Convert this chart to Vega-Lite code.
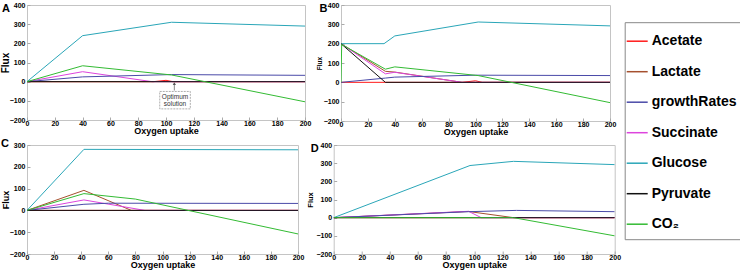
{
  "$schema": "https://vega.github.io/schema/vega-lite/v6.json",
  "padding": {"left": 0, "top": 0, "right": 0, "bottom": 0},
  "spacing": 0,
  "datasets": {
    "lines": [
      {"p": "A", "s": "Acetate", "x": 0, "y": 0},
      {"p": "A", "s": "Acetate", "x": 91, "y": 0},
      {"p": "A", "s": "Acetate", "x": 100, "y": 7},
      {"p": "A", "s": "Acetate", "x": 105, "y": 0},
      {"p": "A", "s": "Acetate", "x": 200, "y": 0},
      {"p": "A", "s": "Lactate", "x": 0, "y": 0},
      {"p": "A", "s": "Lactate", "x": 200, "y": 0},
      {"p": "A", "s": "Succinate", "x": 0, "y": 0},
      {"p": "A", "s": "Succinate", "x": 40, "y": 52},
      {"p": "A", "s": "Succinate", "x": 90, "y": 0},
      {"p": "A", "s": "Succinate", "x": 200, "y": 0},
      {"p": "A", "s": "growthRates", "x": 0, "y": 0},
      {"p": "A", "s": "growthRates", "x": 40, "y": 25},
      {"p": "A", "s": "growthRates", "x": 104, "y": 37},
      {"p": "A", "s": "growthRates", "x": 200, "y": 33},
      {"p": "A", "s": "Glucose", "x": 0, "y": 0},
      {"p": "A", "s": "Glucose", "x": 40, "y": 240},
      {"p": "A", "s": "Glucose", "x": 104, "y": 310},
      {"p": "A", "s": "Glucose", "x": 200, "y": 290},
      {"p": "A", "s": "Pyruvate", "x": 0, "y": 0},
      {"p": "A", "s": "Pyruvate", "x": 200, "y": 0},
      {"p": "A", "s": "CO₂", "x": 0, "y": 0},
      {"p": "A", "s": "CO₂", "x": 40, "y": 83},
      {"p": "A", "s": "CO₂", "x": 104, "y": 35},
      {"p": "A", "s": "CO₂", "x": 200, "y": -105},

      {"p": "B", "s": "Acetate", "x": 0, "y": 0},
      {"p": "B", "s": "Acetate", "x": 90, "y": 0},
      {"p": "B", "s": "Acetate", "x": 100, "y": 8},
      {"p": "B", "s": "Acetate", "x": 105, "y": 0},
      {"p": "B", "s": "Acetate", "x": 200, "y": 0},
      {"p": "B", "s": "Lactate", "x": 0, "y": 200},
      {"p": "B", "s": "Lactate", "x": 33, "y": 57},
      {"p": "B", "s": "Lactate", "x": 40, "y": 53},
      {"p": "B", "s": "Lactate", "x": 90, "y": 0},
      {"p": "B", "s": "Lactate", "x": 200, "y": 0},
      {"p": "B", "s": "Succinate", "x": 0, "y": 200},
      {"p": "B", "s": "Succinate", "x": 33, "y": 44},
      {"p": "B", "s": "Succinate", "x": 40, "y": 52},
      {"p": "B", "s": "Succinate", "x": 90, "y": 0},
      {"p": "B", "s": "Succinate", "x": 200, "y": 0},
      {"p": "B", "s": "growthRates", "x": 0, "y": 0},
      {"p": "B", "s": "growthRates", "x": 33, "y": 22},
      {"p": "B", "s": "growthRates", "x": 40, "y": 27},
      {"p": "B", "s": "growthRates", "x": 100, "y": 37},
      {"p": "B", "s": "growthRates", "x": 200, "y": 35},
      {"p": "B", "s": "Glucose", "x": 0, "y": 200},
      {"p": "B", "s": "Glucose", "x": 32, "y": 200},
      {"p": "B", "s": "Glucose", "x": 40, "y": 240},
      {"p": "B", "s": "Glucose", "x": 102, "y": 312},
      {"p": "B", "s": "Glucose", "x": 200, "y": 292},
      {"p": "B", "s": "Pyruvate", "x": 0, "y": 200},
      {"p": "B", "s": "Pyruvate", "x": 33, "y": 0},
      {"p": "B", "s": "Pyruvate", "x": 200, "y": 0},
      {"p": "B", "s": "CO₂", "x": 0, "y": 0},
      {"p": "B", "s": "CO₂", "x": 0.5, "y": 196},
      {"p": "B", "s": "CO₂", "x": 33, "y": 68},
      {"p": "B", "s": "CO₂", "x": 40, "y": 80},
      {"p": "B", "s": "CO₂", "x": 102, "y": 35},
      {"p": "B", "s": "CO₂", "x": 200, "y": -105},

      {"p": "C", "s": "Acetate", "x": 0, "y": 0},
      {"p": "C", "s": "Acetate", "x": 200, "y": 0},
      {"p": "C", "s": "Lactate", "x": 0, "y": 0},
      {"p": "C", "s": "Lactate", "x": 42, "y": 92},
      {"p": "C", "s": "Lactate", "x": 77, "y": 0},
      {"p": "C", "s": "Lactate", "x": 200, "y": 0},
      {"p": "C", "s": "Succinate", "x": 0, "y": 0},
      {"p": "C", "s": "Succinate", "x": 42, "y": 48},
      {"p": "C", "s": "Succinate", "x": 87, "y": 0},
      {"p": "C", "s": "Succinate", "x": 200, "y": 0},
      {"p": "C", "s": "growthRates", "x": 0, "y": 0},
      {"p": "C", "s": "growthRates", "x": 42, "y": 28},
      {"p": "C", "s": "growthRates", "x": 60, "y": 33},
      {"p": "C", "s": "growthRates", "x": 200, "y": 32},
      {"p": "C", "s": "Glucose", "x": 0, "y": 0},
      {"p": "C", "s": "Glucose", "x": 42, "y": 280},
      {"p": "C", "s": "Glucose", "x": 200, "y": 278},
      {"p": "C", "s": "Pyruvate", "x": 0, "y": 0},
      {"p": "C", "s": "Pyruvate", "x": 200, "y": 0},
      {"p": "C", "s": "CO₂", "x": 0, "y": 0},
      {"p": "C", "s": "CO₂", "x": 42, "y": 77},
      {"p": "C", "s": "CO₂", "x": 80, "y": 52},
      {"p": "C", "s": "CO₂", "x": 200, "y": -108},

      {"p": "D", "s": "Acetate", "x": 0, "y": 0},
      {"p": "D", "s": "Acetate", "x": 200, "y": 0},
      {"p": "D", "s": "Lactate", "x": 0, "y": 0},
      {"p": "D", "s": "Lactate", "x": 96, "y": 34},
      {"p": "D", "s": "Lactate", "x": 128, "y": 0},
      {"p": "D", "s": "Lactate", "x": 200, "y": 0},
      {"p": "D", "s": "Succinate", "x": 0, "y": 0},
      {"p": "D", "s": "Succinate", "x": 96, "y": 35},
      {"p": "D", "s": "Succinate", "x": 105, "y": 0},
      {"p": "D", "s": "Succinate", "x": 200, "y": 0},
      {"p": "D", "s": "growthRates", "x": 0, "y": 0},
      {"p": "D", "s": "growthRates", "x": 96, "y": 33},
      {"p": "D", "s": "growthRates", "x": 130, "y": 40},
      {"p": "D", "s": "growthRates", "x": 200, "y": 33},
      {"p": "D", "s": "Glucose", "x": 0, "y": 0},
      {"p": "D", "s": "Glucose", "x": 97, "y": 287},
      {"p": "D", "s": "Glucose", "x": 128, "y": 310},
      {"p": "D", "s": "Glucose", "x": 200, "y": 292},
      {"p": "D", "s": "Pyruvate", "x": 0, "y": 0},
      {"p": "D", "s": "Pyruvate", "x": 200, "y": 0},
      {"p": "D", "s": "CO₂", "x": 0, "y": 0},
      {"p": "D", "s": "CO₂", "x": 128, "y": 0},
      {"p": "D", "s": "CO₂", "x": 200, "y": -100}
    ],
    "box": [{"x1": 95.5, "x2": 117.5, "y1": -51, "y2": -142}],
    "boxtext": [
      {"x": 106.5, "y": -81, "t": "Optimum"},
      {"x": 106.5, "y": -119, "t": "solution"}
    ],
    "arrow": [{"x": 106, "y1": -46, "y2": -8, "tip": -10}]
  },
  "vconcat": [
    {
      "bounds": "flush",
      "spacing": 36,
      "hconcat": [
        {
          "width": 278,
          "height": 115,
          "title": {"text": "A", "dx": -25, "offset": -12.5},
          "encoding": {
            "x": {"field": "x", "type": "quantitative", "scale": {"domain": [0, 200], "nice": false}, "axis": {"values": [0, 20, 40, 60, 80, 100, 120, 140, 160, 180, 200], "title": "Oxygen uptake"}},
            "y": {"field": "y", "type": "quantitative", "scale": {"domain": [-200, 400], "nice": false}, "axis": {"values": [-200, -100, 0, 100, 200, 300, 400], "title": "Flux", "titleFontSize": 10, "titlePadding": -1.7}}
          },
          "layer": [
            {
              "data": {"name": "lines"},
              "transform": [{"filter": "datum.p === 'A'"}],
              "mark": {"type": "line", "strokeWidth": 1, "clip": true},
              "encoding": {"color": {"field": "s", "type": "nominal", "scale": {"domain": ["Acetate", "Lactate", "growthRates", "Succinate", "Glucose", "Pyruvate", "CO₂"], "range": ["#ff1a1a", "#a5502e", "#4a4aa8", "#dd44dd", "#2aa6b8", "#111111", "#33bb33"]}, "legend": {"title": null, "orient": "none", "legendX": 597.7, "legendY": 17.2}}}
            },
            {
              "data": {"name": "box"},
              "mark": {"type": "rect", "fill": "white", "stroke": "#999999", "strokeWidth": 0.8, "strokeDash": [2, 1]},
              "encoding": {
                "x": {"field": "x1", "type": "quantitative"},
                "x2": {"field": "x2"},
                "y": {"field": "y1", "type": "quantitative"},
                "y2": {"field": "y2"}
              }
            },
            {
              "data": {"name": "boxtext"},
              "mark": {"type": "text", "font": "Liberation Sans", "fontSize": 6.5, "color": "#333333"},
              "encoding": {
                "x": {"field": "x", "type": "quantitative"},
                "y": {"field": "y", "type": "quantitative"},
                "text": {"field": "t"}
              }
            },
            {
              "data": {"name": "arrow"},
              "mark": {"type": "rule", "color": "#555555", "strokeWidth": 0.7},
              "encoding": {
                "x": {"field": "x", "type": "quantitative"},
                "y": {"field": "y1", "type": "quantitative"},
                "y2": {"field": "y2"}
              }
            },
            {
              "data": {"name": "arrow"},
              "mark": {"type": "point", "shape": "triangle-up", "filled": true, "color": "#555555", "size": 10, "opacity": 1},
              "encoding": {
                "x": {"field": "x", "type": "quantitative"},
                "y": {"field": "tip", "type": "quantitative"}
              }
            }
          ]
        },
        {
          "width": 269,
          "height": 116,
          "title": {"text": "B", "dx": -21.5, "offset": -12.5},
          "data": {"name": "lines"},
          "transform": [{"filter": "datum.p === 'B'"}],
          "mark": {"type": "line", "strokeWidth": 1, "clip": true},
          "encoding": {
            "x": {"field": "x", "type": "quantitative", "scale": {"domain": [0, 200], "nice": false}, "axis": {"values": [0, 20, 40, 60, 80, 100, 120, 140, 160, 180, 200], "title": "Oxygen uptake"}},
            "y": {"field": "y", "type": "quantitative", "scale": {"domain": [-200, 400], "nice": false}, "axis": {"values": [-200, -100, 0, 100, 200, 300, 400], "title": "Flux", "titleFontSize": 6.5}},
            "color": {"field": "s", "type": "nominal"}
          }
        }
      ]
    },
    {
      "bounds": "flush",
      "spacing": 35.7,
      "hconcat": [
        {
          "width": 271,
          "height": 109,
          "title": {"text": "C", "dx": -26, "offset": -8},
          "data": {"name": "lines"},
          "transform": [{"filter": "datum.p === 'C'"}],
          "mark": {"type": "line", "strokeWidth": 1, "clip": true},
          "encoding": {
            "x": {"field": "x", "type": "quantitative", "scale": {"domain": [0, 200], "nice": false}, "axis": {"values": [0, 20, 40, 60, 80, 100, 120, 140, 160, 180, 200], "title": "Oxygen uptake"}},
            "y": {"field": "y", "type": "quantitative", "scale": {"domain": [-200, 300], "nice": false}, "axis": {"values": [-200, -100, 0, 100, 200, 300], "title": "Flux", "titleFontSize": 9, "titlePadding": -1}},
            "color": {"field": "s", "type": "nominal"}
          }
        },
        {
          "width": 281,
          "height": 109,
          "title": {"text": "D", "dx": -23, "offset": -13},
          "data": {"name": "lines"},
          "transform": [{"filter": "datum.p === 'D'"}],
          "mark": {"type": "line", "strokeWidth": 1, "clip": true},
          "encoding": {
            "x": {"field": "x", "type": "quantitative", "scale": {"domain": [0, 200], "nice": false}, "axis": {"values": [0, 20, 40, 60, 80, 100, 120, 140, 160, 180, 200], "title": "Oxygen uptake"}},
            "y": {"field": "y", "type": "quantitative", "scale": {"domain": [-200, 400], "nice": false}, "axis": {"values": [-200, -100, 0, 100, 200, 300, 400], "title": "Flux", "titleFontSize": 7.5}},
            "color": {"field": "s", "type": "nominal"}
          }
        }
      ]
    }
  ],
  "resolve": {"scale": {"color": "shared"}},
  "config": {
    "font": "Liberation Sans",
    "view": {"stroke": "#c4c4c4", "strokeWidth": 1},
    "title": {"font": "Liberation Sans", "fontSize": 11, "fontWeight": "bold", "anchor": "start", "frame": "group", "baseline": "alphabetic", "color": "#000000"},
    "axis": {
      "domain": false,
      "grid": false,
      "ticks": true,
      "tickColor": "#aaaaaa",
      "tickSize": -3,
      "labelPadding": 5,
      "labelFont": "Liberation Sans",
      "labelFontWeight": "bold",
      "labelFontSize": 7,
      "labelColor": "#000000",
      "labelFlush": false,
      "labelOverlap": false,
      "titleFont": "Liberation Sans",
      "titleFontWeight": "bold",
      "titleColor": "#000000"
    },
    "axisX": {"titleFontSize": 9, "titlePadding": 0, "labelPadding": 2.5},
    "axisY": {"titlePadding": 1},
    "legend": {
      "strokeColor": "#888888",
      "fillColor": "#ffffff",
      "padding": 7.5,
      "symbolType": "stroke",
      "symbolSize": 441,
      "symbolStrokeWidth": 1.5,
      "symbolOffset": -6.5,
      "labelFont": "Liberation Sans",
      "labelFontSize": 14,
      "labelFontWeight": "bold",
      "labelColor": "#000000",
      "labelOffset": 3,
      "labelLimit": 300,
      "rowPadding": 11.5
    }
  }
}
